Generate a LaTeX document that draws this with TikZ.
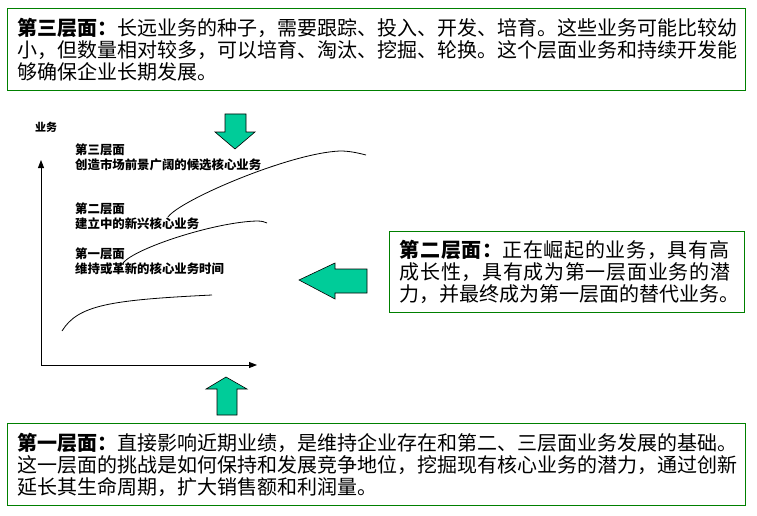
\documentclass[tikz,border=0pt]{standalone}
\usepackage{fontspec}
\newfontfamily\cjk{Noto Sans CJK SC}
\usetikzlibrary{arrows.meta}
\definecolor{blkgreen}{RGB}{0,204,153}
\definecolor{boxgreen}{RGB}{0,128,0}

\begin{document}
\begin{tikzpicture}[x=1pt,y=-1pt,
  layer box/.style={draw=boxgreen,line width=1.2pt,fill=white,anchor=north west,
    align=left,inner xsep=10pt,font=\cjk\fontsize{20}{22}\selectfont},
  curve label/.style={anchor=west,align=left,inner sep=0pt,
    font=\cjk\fontsize{12.4}{15}\selectfont\bfseries},
  block arrow/.style={fill=blkgreen,draw=black,line width=0.6pt},
  axis/.style={line width=0.9pt,-{Triangle[length=8pt,width=6pt]}},
  growth/.style={line width=0.8pt}]

  \useasboundingbox (0,0) rectangle (757,516);

  \node [layer box,minimum width=738pt,minimum height=82pt,text width=718pt] (thr) at (7,8)
    {{\bfseries 第三层面：}长远业务的种子，需要跟踪、投入、开发、培育。这些业务可能比较幼\\
     小，但数量相对较多，可以培育、淘汰、挖掘、轮换。这个层面业务和持续开发能\\
     够确保企业长期发展。};
  \node [layer box,minimum width=355pt,minimum height=81pt,text width=335pt] (sec) at (389,231)
    {{\addfontfeature{LetterSpace=3.5}{\bfseries 第二层面：}正在崛起的业务，具有高}\\
     {\addfontfeature{LetterSpace=3.5}成长性，具有成为第一层面业务的潜}\\
     力，并最终成为第一层面的替代业务。};
  \node [layer box,minimum width=738pt,minimum height=82pt,text width=718pt] (fir) at (7,423)
    {{\bfseries 第一层面：}直接影响近期业绩，是维持企业存在和第二、三层面业务发展的基础。\\
     这一层面的挑战是如何保持和发展竞争地位，挖掘现有核心业务的潜力，通过创新\\
     延长其生命周期，扩大销售额和利润量。};

  \coordinate (org) at (41,365);
  \coordinate (ytp) at (41,160);
  \coordinate (xtp) at (257,365);
  \draw [axis] (org) -- (ytp);
  \draw [axis] (org) -- (xtp);
  \node [curve label,font=\cjk\fontsize{11}{13}\selectfont\bfseries] (ylb) at (35,127) {业务};

  \node [curve label] (lthr) at (75,157.5) {第三层面\\创造市场前景广阔的候选核心业务};
  \node [curve label] (lsec) at (75,216.5) {第二层面\\建立中的新兴核心业务};
  \node [curve label] (lfir) at (75,261) {第一层面\\维持或革新的核心业务时间};

  \draw [growth] (62,331) .. controls (78,305) and (110,300) .. (212,295);
  \draw [growth] (123,263) .. controls (135,248) and (215,222) .. (257,221)
    .. controls (262,221) and (265,222) .. (267,223);
  \draw [growth] (168,217) .. controls (180,200) and (290,153) .. (340,151)
    .. controls (350,151) and (358,153) .. (366,155);

  \filldraw [block arrow] (225,114) -- (246,114) -- (246,132) -- (255,132) -- (235,149)
    -- (215,132) -- (225,132) -- cycle;
  \filldraw [block arrow] (299,280) -- (335,263) -- (335,269) -- (367,269) -- (367,293)
    -- (335,293) -- (335,299) -- cycle;
  \filldraw [block arrow] (226,377) -- (247,389) -- (237,389) -- (237,415) -- (217,415)
    -- (217,389) -- (206,389) -- cycle;
\end{tikzpicture}
\end{document}
